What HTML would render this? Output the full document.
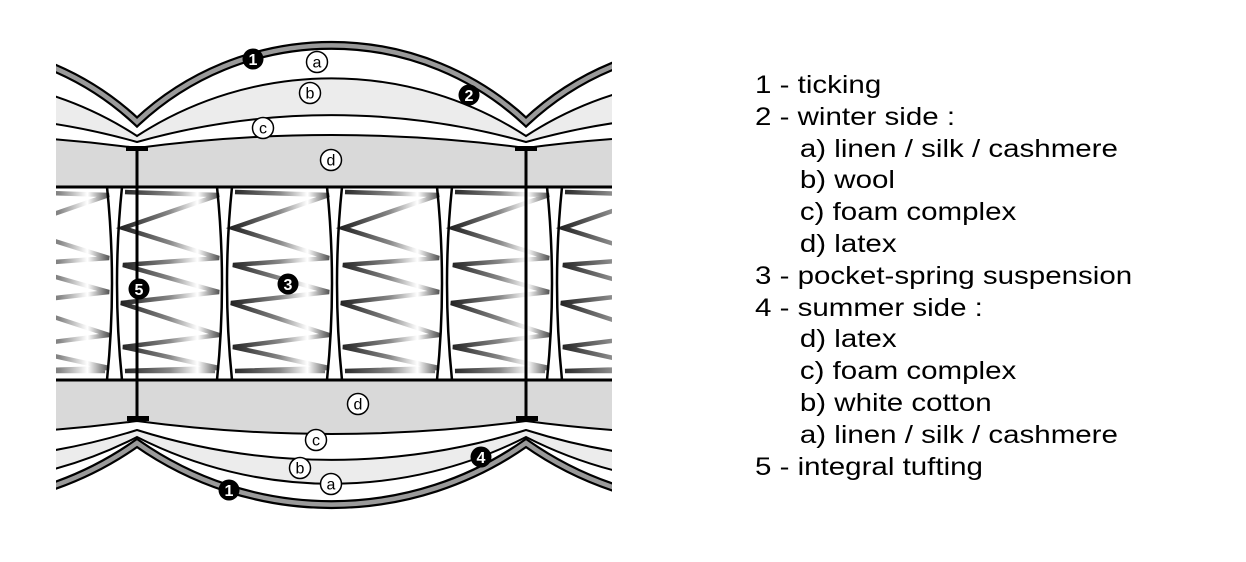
<!DOCTYPE html>
<html><head><meta charset="utf-8"><style>
html,body{margin:0;padding:0;background:#fff;}
body{width:1246px;height:562px;overflow:hidden;position:relative;font-family:"Liberation Sans",Arial,sans-serif;}
.leg{position:absolute;left:755px;top:70px;font-size:25px;line-height:31.8px;color:#000;white-space:pre;transform:scaleX(1.18);transform-origin:0 0;}
.leg .i{padding-left:38px;}
</style></head><body>
<svg width="1246" height="562" style="position:absolute;left:0;top:0">
<defs>
<clipPath id="cp"><rect x="56" y="0" width="556" height="562"/></clipPath>
<linearGradient id="sg" x1="0" y1="0" x2="1" y2="0">
<stop offset="0" stop-color="#222"/><stop offset="0.5" stop-color="#888"/><stop offset="0.78" stop-color="#fff"/><stop offset="1" stop-color="#555"/>
</linearGradient>
<g id="spring">
<polyline fill="none" stroke="url(#sg)" stroke-width="4.5" stroke-linejoin="miter" points="10,192 104,195 104,195 8,228 104,258 8,265 104,292 6,303 104,335 8,347 104,368 10,371 100,371"/>
</g>
<g id="div">
<path d="M-8 187 Q2 283 -8 380" fill="none" stroke="#000" stroke-width="2.5"/>
<path d="M7 187 Q-3 283 7 380" fill="none" stroke="#000" stroke-width="2.5"/>
</g>
</defs>
<g clip-path="url(#cp)">
<path d="M-253 136 A357 357 0 0 1 137 136 A357 357 0 0 1 526 136 A357 357 0 0 1 916 136 L916 186 L-253 186Z" fill="#ececec"/>
<path d="M-253 142 A718 718 0 0 1 137 142 A718 718 0 0 1 526 142 A718 718 0 0 1 916 142 L916 186 L-253 186Z" fill="#fff"/>
<path d="M-253 148 A1469 1469 0 0 1 137 148 A1469 1469 0 0 1 526 148 A1469 1469 0 0 1 916 148 L916 186 L-253 186Z" fill="#d9d9d9"/>
<g fill="none" stroke="#000" stroke-width="2">
<path d="M-253 136 A357 357 0 0 1 137 136 A357 357 0 0 1 526 136 A357 357 0 0 1 916 136"/>
<path d="M-253 142 A718 718 0 0 1 137 142 A718 718 0 0 1 526 142 A718 718 0 0 1 916 142"/>
<path d="M-253 148 A1469 1469 0 0 1 137 148 A1469 1469 0 0 1 526 148 A1469 1469 0 0 1 916 148"/>
</g>
<path d="M-253 122 A285 285 0 0 1 137 122 A285 285 0 0 1 526 122 A285 285 0 0 1 916 122" fill="none" stroke="#000" stroke-width="9"/>
<path d="M-253 122 A285 285 0 0 1 137 122 A285 285 0 0 1 526 122 A285 285 0 0 1 916 122" fill="none" stroke="#9a9a9a" stroke-width="4.5"/>
<path d="M-253 437 A428 428 0 0 0 137 437 A428 428 0 0 0 526 437 A428 428 0 0 0 916 437 L916 380 L-253 380Z" fill="#ececec"/>
<path d="M-253 430 A649 649 0 0 0 137 430 A649 649 0 0 0 526 430 A649 649 0 0 0 916 430 L916 380 L-253 380Z" fill="#fff"/>
<path d="M-253 421 A1469 1469 0 0 0 137 421 A1469 1469 0 0 0 526 421 A1469 1469 0 0 0 916 421 L916 380 L-253 380Z" fill="#d9d9d9"/>
<g fill="none" stroke="#000" stroke-width="2">
<path d="M-253 437 A428 428 0 0 0 137 437 A428 428 0 0 0 526 437 A428 428 0 0 0 916 437"/>
<path d="M-253 430 A649 649 0 0 0 137 430 A649 649 0 0 0 526 430 A649 649 0 0 0 916 430"/>
<path d="M-253 421 A1469 1469 0 0 0 137 421 A1469 1469 0 0 0 526 421 A1469 1469 0 0 0 916 421"/>
</g>
<path d="M-253 443 A338 338 0 0 0 137 443 A338 338 0 0 0 526 443 A338 338 0 0 0 916 443" fill="none" stroke="#000" stroke-width="9"/>
<path d="M-253 443 A338 338 0 0 0 137 443 A338 338 0 0 0 526 443 A338 338 0 0 0 916 443" fill="none" stroke="#9a9a9a" stroke-width="4.5"/>
<rect x="0" y="187" width="700" height="193" fill="#fff"/>
<use href="#spring" x="-105"/><use href="#spring" x="5"/><use href="#spring" x="115"/><use href="#spring" x="225"/><use href="#spring" x="335"/><use href="#spring" x="445"/><use href="#spring" x="555"/>
<use href="#div" x="115"/><use href="#div" x="225"/><use href="#div" x="335"/><use href="#div" x="445"/><use href="#div" x="555"/>
<line x1="0" y1="187" x2="700" y2="187" stroke="#000" stroke-width="3"/>
<line x1="0" y1="380" x2="700" y2="380" stroke="#000" stroke-width="3"/>
</g>
<g fill="#000">
<rect x="135.5" y="149" width="3" height="270"/>
<rect x="524.5" y="149" width="3" height="270"/>
<rect x="126" y="146" width="22" height="5"/>
<rect x="515" y="146" width="22" height="5"/>
<rect x="127" y="416" width="22" height="5"/>
<rect x="516" y="416" width="22" height="5"/>
</g>
<g font-family="Liberation Sans, Arial, sans-serif" font-weight="bold" font-size="16" fill="#fff" text-anchor="middle">
<circle cx="253" cy="59" r="10.5" fill="#000"/><text x="253" y="65">1</text>
<circle cx="469" cy="95" r="10.5" fill="#000"/><text x="469" y="101">2</text>
<circle cx="139" cy="289" r="10.5" fill="#000"/><text x="139" y="295">5</text>
<circle cx="288" cy="284" r="10.5" fill="#000"/><text x="288" y="290">3</text>
<circle cx="481" cy="457" r="10.5" fill="#000"/><text x="481" y="463">4</text>
<circle cx="229" cy="490" r="10.5" fill="#000"/><text x="229" y="496">1</text>
</g>
<g font-family="Liberation Sans, Arial, sans-serif" font-size="16" fill="#000" text-anchor="middle">
<g fill="#fff" stroke="#000" stroke-width="1.5">
<circle cx="317" cy="62" r="10.5"/><circle cx="310" cy="93" r="10.5"/><circle cx="263" cy="128" r="10.5"/><circle cx="331" cy="160" r="10.5"/>
<circle cx="358" cy="404" r="10.5"/><circle cx="316" cy="440" r="10.5"/><circle cx="300" cy="468" r="10.5"/><circle cx="331" cy="484" r="10.5"/>
</g>
<text x="317" y="67.5">a</text><text x="310" y="98.5">b</text><text x="263" y="133.5">c</text><text x="331" y="165.5">d</text>
<text x="358" y="409.5">d</text><text x="316" y="445.5">c</text><text x="300" y="473.5">b</text><text x="331" y="489.5">a</text>
</g>
</svg>
<div class="leg">1 - ticking
2 - winter side :
<span class="i">a) linen / silk / cashmere</span>
<span class="i">b) wool</span>
<span class="i">c) foam complex</span>
<span class="i">d) latex</span>
3 - pocket-spring suspension
4 - summer side :
<span class="i">d) latex</span>
<span class="i">c) foam complex</span>
<span class="i">b) white cotton</span>
<span class="i">a) linen / silk / cashmere</span>
5 - integral tufting</div>
</body></html>
